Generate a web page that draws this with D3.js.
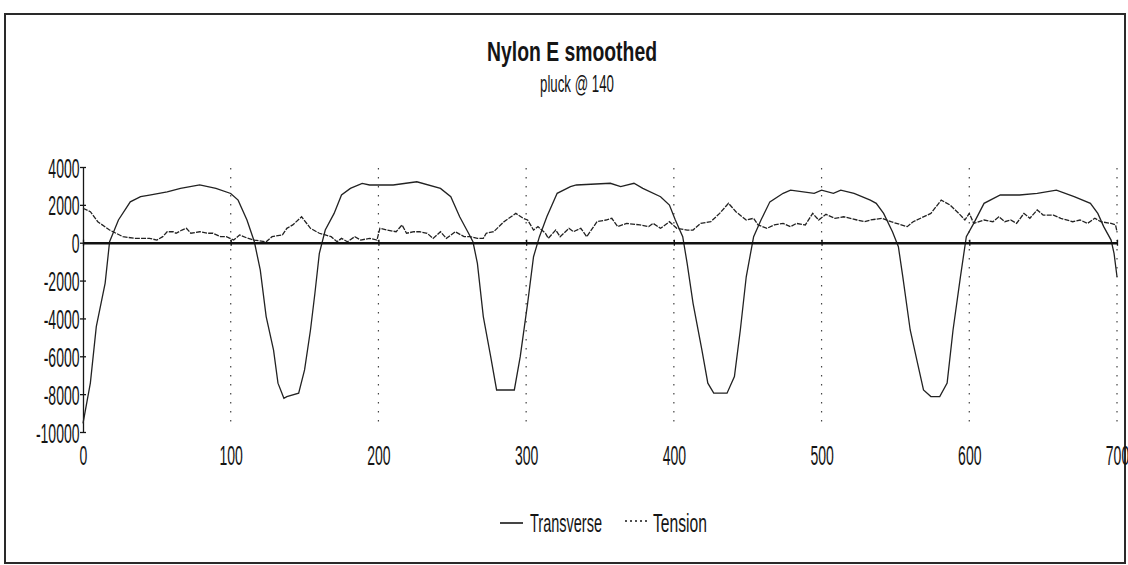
<!DOCTYPE html>
<html><head><meta charset="utf-8">
<script src="https://cdn.jsdelivr.net/npm/d3@7"></script>
<style>
body{margin:0;background:#fff}
svg{display:block}
text{font-family:"Liberation Sans",Arial,sans-serif;fill:#151515}
</style>
</head><body>
<svg id="c" width="1128" height="565"></svg>
<script>
const chartTitle = "Nylon E smoothed";
const chartSubtitle = "pluck @ 140";
const seriesNames = ["Transverse", "Tension"];
const xTickValues = [0, 100, 200, 300, 400, 500, 600, 700];
const yTickValues = [4000, 2000, 0, -2000, -4000, -6000, -8000, -10000];
const gridValues = [100, 200, 300, 400, 500, 600, 700];

const transverseX = [0,5,9,15,18,24,32,39,45,57,66,79,90,100,105,111,116,120,124,129,132,136,138,146,150,154,157,160,164,170,175,181,189,194,210,226,242,249,255,261,264,267,271,276,280,292,296,301,305,309,314,321,330,334,357,364,373,379,391,397,401,406,409,413,419,423,427,436,441,445,449,454,459,465,474,479,495,500,508,513,522,533,537,542,548,552,555,560,565,569,574,580,585,589,594,598,603,610,621,634,646,659,671,682,687,691,696,698,700];
const transverseY = [-9540,-7400,-4430,-2130,50,1200,2160,2430,2520,2690,2870,3050,2870,2600,2250,1200,50,-1440,-3900,-5670,-7420,-8220,-8130,-7950,-6720,-4610,-2670,-560,670,1550,2520,2870,3130,3050,3050,3220,2870,2430,1370,500,50,-1090,-3900,-6020,-7780,-7780,-6020,-3200,-740,320,1370,2610,2960,3050,3140,2960,3140,2870,2430,1990,1200,320,-1090,-3200,-5670,-7420,-7950,-7950,-7070,-4610,-1800,320,1200,2160,2610,2780,2610,2780,2610,2780,2610,2250,2080,1550,580,-210,-1800,-4610,-6370,-7780,-8130,-8130,-7420,-4610,-1800,320,1020,2080,2520,2520,2610,2780,2430,2080,1550,850,140,-560,-1800];

const tensionX = [0,5,10,18,27,35,45,50,54,57,61,63,67,70,73,79,84,88,93,97,102,106,111,116,124,128,135,138,142,148,154,160,164,168,172,175,179,184,188,194,199,201,206,212,216,219,224,228,233,237,242,246,252,258,262,267,271,273,278,285,293,298,301,305,308,313,315,320,323,329,332,337,341,348,354,358,362,368,377,383,386,391,397,402,409,413,418,425,431,437,442,449,454,457,463,468,474,479,483,489,494,498,503,509,515,524,529,533,541,547,558,562,574,581,587,594,597,600,603,610,616,620,624,628,632,637,641,646,650,657,662,670,675,680,685,689,696,699,700];
const tensionY = [1820,1640,1110,670,320,230,230,140,320,580,580,500,670,760,500,580,500,500,320,320,140,410,250,140,50,320,410,760,940,1370,760,500,410,320,50,230,50,320,140,230,140,760,670,580,940,500,580,580,500,230,580,230,580,320,320,230,230,500,580,1110,1550,1290,1200,670,850,500,230,670,320,760,580,760,320,1110,1200,1290,850,1020,940,850,1020,760,1110,760,670,670,1020,1110,1550,2080,1640,1200,1290,940,760,940,1020,850,1020,940,1550,1200,1500,1290,1370,1200,1110,1200,1290,1110,850,1110,1550,2250,1990,1460,1200,1550,1020,1200,1110,1370,1110,1200,1020,1550,1290,1730,1460,1460,1290,1110,1200,1020,1290,1110,1020,940,580];

const svg = d3.select("#c");
const ink = "#161616";

// outer frame
svg.append("rect").attr("x", 5).attr("y", 14).attr("width", 1120).attr("height", 549)
  .attr("fill", "none").attr("stroke", "#2a2a2a").attr("stroke-width", 2);

const x = d3.scaleLinear().domain([0, 700]).range([83, 1117]);
const y = d3.scaleLinear().domain([-10000, 4000]).range([432, 167]);

function fitText(sel, cx, cy, targetW) {
  const w = sel.node().getComputedTextLength();
  const s = targetW / w;
  sel.attr("x", 0).attr("y", 0).attr("transform", `translate(${cx},${cy}) scale(${s},1)`);
}

// title / subtitle
const t1 = svg.append("text").attr("text-anchor", "middle").attr("font-size", 28)
  .attr("font-weight", "bold").text(chartTitle);
fitText(t1, 572, 61, 170);
const t2 = svg.append("text").attr("text-anchor", "middle").attr("font-size", 23).text(chartSubtitle);
fitText(t2, 577, 92, 74);

// vertical dotted gridlines
svg.append("g").selectAll("line").data(gridValues).join("line")
  .attr("x1", d => x(d)).attr("x2", d => x(d))
  .attr("y1", y(4000) + 1).attr("y2", y(-9650))
  .attr("stroke", "#444").attr("stroke-width", 1.2).attr("stroke-dasharray", "1.4,7.6");

const labelScale = 0.5;
const fmt = d => String(d);

// y axis
const gy = svg.append("g").attr("transform", `translate(${x(0)},0)`)
  .call(d3.axisLeft(y).tickValues(yTickValues).tickSizeOuter(0).tickSizeInner(3).tickFormat(fmt));
gy.select(".domain").attr("stroke", ink).attr("stroke-width", 1.3);
gy.selectAll(".tick line").attr("x1", 3).attr("x2", -3).attr("stroke", ink).attr("stroke-width", 1.3);
gy.selectAll(".tick text").attr("x", null).attr("dy", "0.36em").attr("font-size", 28)
  .attr("font-family", "\"Liberation Sans\",Arial,sans-serif").attr("fill", "#151515")
  .attr("transform", `translate(-3.5,0) scale(${labelScale},1)`);

// x labels at the bottom
const gxl = svg.append("g").attr("transform", `translate(0,${y(-10000)})`)
  .call(d3.axisBottom(x).tickValues(xTickValues).tickSize(0).tickFormat(fmt));
gxl.select(".domain").remove();
gxl.selectAll(".tick text").attr("y", null).attr("dy", null).attr("font-size", 28)
  .attr("font-family", "\"Liberation Sans\",Arial,sans-serif").attr("fill", "#151515")
  .attr("transform", `translate(0,33) scale(${labelScale},1)`);

// series lines
const line = d3.line().x(d => x(d[0])).y(d => y(d[1]));
const transverse = d3.zip(transverseX, transverseY);
const tension = d3.zip(tensionX, tensionY);

svg.append("path").datum(tension).attr("d", line).attr("fill", "none")
  .attr("stroke", "#222").attr("stroke-width", 1.3).attr("stroke-dasharray", "5,1.2");
svg.append("path").datum(transverse).attr("d", line).attr("fill", "none")
  .attr("stroke", "#222").attr("stroke-width", 1.3);

// zero axis line with crossing ticks
const gx0 = svg.append("g").attr("transform", `translate(0,${y(0)})`)
  .call(d3.axisBottom(x).tickValues(xTickValues).tickSizeOuter(0).tickSizeInner(3).tickFormat(""));
gx0.select(".domain").attr("stroke", "#111").attr("stroke-width", 2.4);
gx0.selectAll(".tick line").attr("y1", -3).attr("y2", 3).attr("stroke", "#111").attr("stroke-width", 1.3);

// legend
const leg = svg.append("g");
leg.append("line").attr("x1", 500).attr("x2", 523).attr("y1", 523).attr("y2", 523)
  .attr("stroke", ink).attr("stroke-width", 1.6);
const l1 = leg.append("text").attr("font-size", 26).text(seriesNames[0]);
fitText(l1, 530, 532, 72);
leg.append("line").attr("x1", 625).attr("x2", 648).attr("y1", 521).attr("y2", 521)
  .attr("stroke", ink).attr("stroke-width", 1.4).attr("stroke-dasharray", "2,3");
const l2 = leg.append("text").attr("font-size", 26).text(seriesNames[1]);
fitText(l2, 653, 532, 54);
</script>
</body></html>
